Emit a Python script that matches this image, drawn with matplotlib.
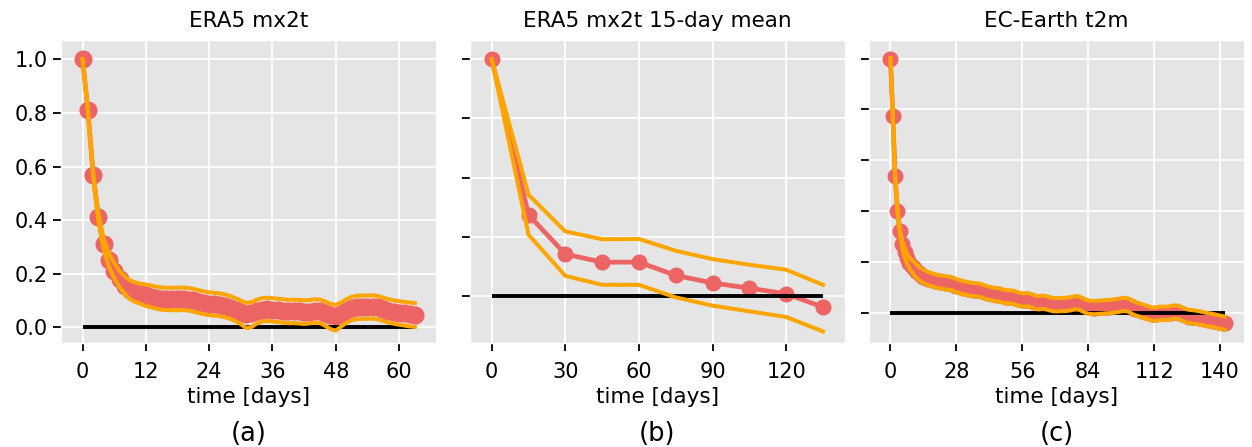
import numpy as np
import matplotlib
matplotlib.use("Agg")
import matplotlib.pyplot as plt

plt.style.use("ggplot")

RED = "#EC6464"
ORANGE = "#FFA500"

# (a) ERA5 daily mx2t: autocorrelation and its bounds, lag in days
days_a = np.arange(64)
acf_a = [1.000, 0.810, 0.570, 0.410, 0.310, 0.250, 0.210, 0.180, 0.155, 0.140,
         0.130, 0.125, 0.120, 0.115, 0.110, 0.107, 0.106, 0.106, 0.106, 0.106,
         0.104, 0.101, 0.096, 0.091, 0.088, 0.086, 0.084, 0.080, 0.074, 0.066,
         0.057, 0.050, 0.052, 0.060, 0.066, 0.068, 0.066, 0.064, 0.062, 0.060,
         0.060, 0.060, 0.058, 0.059, 0.062, 0.061, 0.054, 0.045, 0.041, 0.050,
         0.062, 0.071, 0.076, 0.077, 0.077, 0.078, 0.075, 0.068, 0.062, 0.058,
         0.055, 0.052, 0.050, 0.048]
upper_a = [1.000, 0.815, 0.580, 0.425, 0.330, 0.275, 0.240, 0.210, 0.190, 0.175,
           0.168, 0.163, 0.160, 0.156, 0.152, 0.149, 0.148, 0.148, 0.148, 0.149,
           0.147, 0.144, 0.139, 0.134, 0.131, 0.129, 0.127, 0.123, 0.117, 0.109,
           0.100, 0.092, 0.094, 0.103, 0.109, 0.111, 0.109, 0.107, 0.105, 0.103,
           0.103, 0.103, 0.101, 0.102, 0.105, 0.104, 0.097, 0.088, 0.084, 0.093,
           0.105, 0.114, 0.118, 0.119, 0.119, 0.120, 0.117, 0.111, 0.105, 0.101,
           0.098, 0.095, 0.093, 0.091]
lower_a = [1.000, 0.805, 0.560, 0.395, 0.290, 0.225, 0.185, 0.150, 0.125, 0.105,
           0.095, 0.088, 0.080, 0.075, 0.070, 0.066, 0.065, 0.064, 0.064, 0.065,
           0.063, 0.059, 0.054, 0.049, 0.046, 0.044, 0.042, 0.038, 0.032, 0.024,
           0.012, -0.002, 0.001, 0.014, 0.022, 0.024, 0.022, 0.020, 0.018, 0.016,
           0.016, 0.015, 0.013, 0.015, 0.018, 0.016, 0.006, -0.006, -0.012, 0.003,
           0.017, 0.027, 0.031, 0.032, 0.032, 0.033, 0.030, 0.024, 0.018, 0.014,
           0.010, 0.007, 0.004, 0.002]

# (b) ERA5 mx2t 15-day means
days_b = [0, 15, 30, 45, 60, 75, 90, 105, 120, 135]
acf_b = [1.000, 0.342, 0.176, 0.142, 0.142, 0.086, 0.054, 0.032, 0.008, -0.048]
upper_b = [1.000, 0.427, 0.272, 0.239, 0.240, 0.190, 0.155, 0.131, 0.110, 0.046]
lower_b = [1.000, 0.258, 0.084, 0.046, 0.046, -0.007, -0.042, -0.066, -0.090, -0.151]

# (c) EC-Earth daily t2m
days_c = np.arange(143)
acf_c = [1.000, 0.776, 0.539, 0.402, 0.322, 0.270, 0.240, 0.215, 0.198, 0.186,
         0.176, 0.166, 0.158, 0.150, 0.144, 0.140, 0.136, 0.133, 0.130, 0.127,
         0.125, 0.123, 0.121, 0.120, 0.119, 0.118, 0.116, 0.112, 0.108, 0.105,
         0.102, 0.100, 0.098, 0.096, 0.094, 0.093, 0.092, 0.091, 0.090, 0.087,
         0.083, 0.080, 0.078, 0.076, 0.074, 0.073, 0.072, 0.070, 0.067, 0.065,
         0.064, 0.064, 0.063, 0.060, 0.057, 0.054, 0.052, 0.052, 0.053, 0.052,
         0.049, 0.045, 0.042, 0.041, 0.042, 0.043, 0.041, 0.039, 0.036, 0.034,
         0.033, 0.033, 0.034, 0.034, 0.034, 0.035, 0.036, 0.038, 0.040, 0.041,
         0.040, 0.036, 0.031, 0.027, 0.024, 0.023, 0.022, 0.022, 0.023, 0.024,
         0.024, 0.025, 0.026, 0.026, 0.027, 0.028, 0.029, 0.031, 0.033, 0.034,
         0.034, 0.032, 0.027, 0.022, 0.018, 0.015, 0.012, 0.009, 0.006, 0.003,
         0.000, -0.003, -0.004, -0.003, -0.001, 0.000, 0.000, -0.001, 0.000, 0.002,
         0.004, 0.005, 0.004, 0.001, -0.004, -0.008, -0.011, -0.013, -0.014, -0.015,
         -0.016, -0.018, -0.020, -0.022, -0.024, -0.026, -0.027, -0.029, -0.031, -0.033,
         -0.035, -0.037, -0.039]
upper_c = [1.000, 0.778, 0.543, 0.408, 0.331, 0.284, 0.257, 0.234, 0.219, 0.209,
           0.202, 0.192, 0.184, 0.176, 0.170, 0.166, 0.162, 0.159, 0.156, 0.153,
           0.151, 0.149, 0.147, 0.146, 0.145, 0.144, 0.142, 0.138, 0.134, 0.131,
           0.128, 0.126, 0.124, 0.122, 0.120, 0.119, 0.118, 0.117, 0.116, 0.113,
           0.109, 0.106, 0.104, 0.102, 0.100, 0.099, 0.098, 0.096, 0.093, 0.091,
           0.090, 0.090, 0.089, 0.086, 0.083, 0.080, 0.078, 0.078, 0.079, 0.078,
           0.075, 0.071, 0.068, 0.067, 0.068, 0.069, 0.067, 0.065, 0.062, 0.060,
           0.059, 0.059, 0.060, 0.060, 0.060, 0.061, 0.062, 0.064, 0.066, 0.067,
           0.066, 0.062, 0.057, 0.053, 0.050, 0.049, 0.048, 0.048, 0.049, 0.050,
           0.050, 0.051, 0.052, 0.052, 0.053, 0.054, 0.055, 0.057, 0.059, 0.060,
           0.060, 0.058, 0.053, 0.048, 0.044, 0.041, 0.038, 0.035, 0.032, 0.029,
           0.026, 0.023, 0.022, 0.023, 0.025, 0.026, 0.026, 0.025, 0.026, 0.028,
           0.030, 0.031, 0.030, 0.027, 0.022, 0.018, 0.015, 0.013, 0.012, 0.011,
           0.010, 0.008, 0.006, 0.004, 0.002, 0.000, -0.001, -0.003, -0.005, -0.007,
           -0.009, -0.011, -0.013]
lower_c = [1.000, 0.774, 0.535, 0.396, 0.313, 0.256, 0.223, 0.196, 0.177, 0.163,
           0.150, 0.140, 0.132, 0.124, 0.118, 0.114, 0.110, 0.107, 0.104, 0.101,
           0.099, 0.097, 0.095, 0.094, 0.093, 0.092, 0.090, 0.086, 0.082, 0.079,
           0.076, 0.074, 0.072, 0.070, 0.068, 0.067, 0.066, 0.065, 0.064, 0.061,
           0.057, 0.054, 0.052, 0.050, 0.048, 0.047, 0.046, 0.044, 0.041, 0.039,
           0.038, 0.038, 0.037, 0.034, 0.031, 0.028, 0.026, 0.026, 0.027, 0.026,
           0.023, 0.019, 0.016, 0.015, 0.016, 0.017, 0.015, 0.013, 0.010, 0.008,
           0.007, 0.007, 0.008, 0.008, 0.008, 0.009, 0.010, 0.012, 0.014, 0.015,
           0.014, 0.010, 0.005, 0.001, -0.002, -0.003, -0.004, -0.004, -0.003, -0.002,
           -0.002, -0.001, 0.000, 0.000, 0.001, 0.002, 0.003, 0.005, 0.007, 0.008,
           0.008, 0.006, 0.001, -0.004, -0.008, -0.011, -0.014, -0.017, -0.020, -0.023,
           -0.026, -0.029, -0.030, -0.029, -0.027, -0.026, -0.026, -0.027, -0.026, -0.024,
           -0.022, -0.021, -0.022, -0.025, -0.030, -0.034, -0.037, -0.039, -0.040, -0.041,
           -0.042, -0.044, -0.046, -0.048, -0.050, -0.052, -0.053, -0.055, -0.057, -0.059,
           -0.061, -0.063, -0.065]

titles = ["ERA5 mx2t", "ERA5 mx2t 15-day mean", "EC-Earth t2m"]
panel_labels = ["(a)", "(b)", "(c)"]
xticks_a = [0, 12, 24, 36, 48, 60]
xticks_b = [0, 30, 60, 90, 120]
xticks_c = [0, 28, 56, 84, 112, 140]
yticks_ac = [0.0, 0.2, 0.4, 0.6, 0.8, 1.0]
yticks_b = [0.0, 0.25, 0.5, 0.75, 1.0]


def draw_panel(ax, days, acf, upper, lower, xticks, yticks, xlim, ylim,
               ylabels, ms):
    ax.hlines(0, days[0], days[-1], color="black", lw=2.8, zorder=3)
    ax.plot(days, acf, color=RED, lw=3.4, marker="o", ms=ms, zorder=2)
    ax.plot(days, upper, color=ORANGE, lw=2.9, zorder=4)
    ax.plot(days, lower, color=ORANGE, lw=2.9, zorder=4)

    ax.set_xticks(xticks)
    ax.set_yticks(yticks)
    ax.set_xlim(*xlim)
    ax.set_ylim(*ylim)
    ax.set_facecolor("#E5E5E5")
    ax.grid(True, color="white", lw=1.3)
    ax.tick_params(colors="black", labelsize=15, length=6, width=1.3,
                   labelleft=ylabels)
    ax.tick_params(axis="x", pad=8)
    ax.set_xlabel("time [days]", fontsize=15.5, color="black", labelpad=3)


fig = plt.figure(figsize=(12.52, 4.47), dpi=100)
fig.patch.set_facecolor("white")

left = [0.0487, 0.3754, 0.6941]
axes = [fig.add_axes([l, 0.2327, 0.2995, 0.6779]) for l in left]

draw_panel(axes[0], days_a, acf_a, upper_a, lower_a, xticks_a, yticks_ac,
           (-4.1, 67.0), (-0.058, 1.072), True, 12)
axes[0].set_yticklabels(["0.0", "0.2", "0.4", "0.6", "0.8", "1.0"])
draw_panel(axes[1], days_b, acf_b, upper_b, lower_b, xticks_b, yticks_b,
           (-8.85, 144.0), (-0.2, 1.082), False, 10.5)
draw_panel(axes[2], days_c, acf_c, upper_c, lower_c, xticks_c, yticks_ac,
           (-9.1, 150.2), (-0.117, 1.073), False, 10.5)

for ax, title, lab in zip(axes, titles, panel_labels):
    ax.set_title(title, fontsize=15.5, color="black", pad=9)
    pos = ax.get_position()
    fig.text(pos.x0 + pos.width / 2, 0.03, lab, ha="center", va="center",
             fontsize=18.5, color="black")

fig.savefig("out.png", dpi=100)
